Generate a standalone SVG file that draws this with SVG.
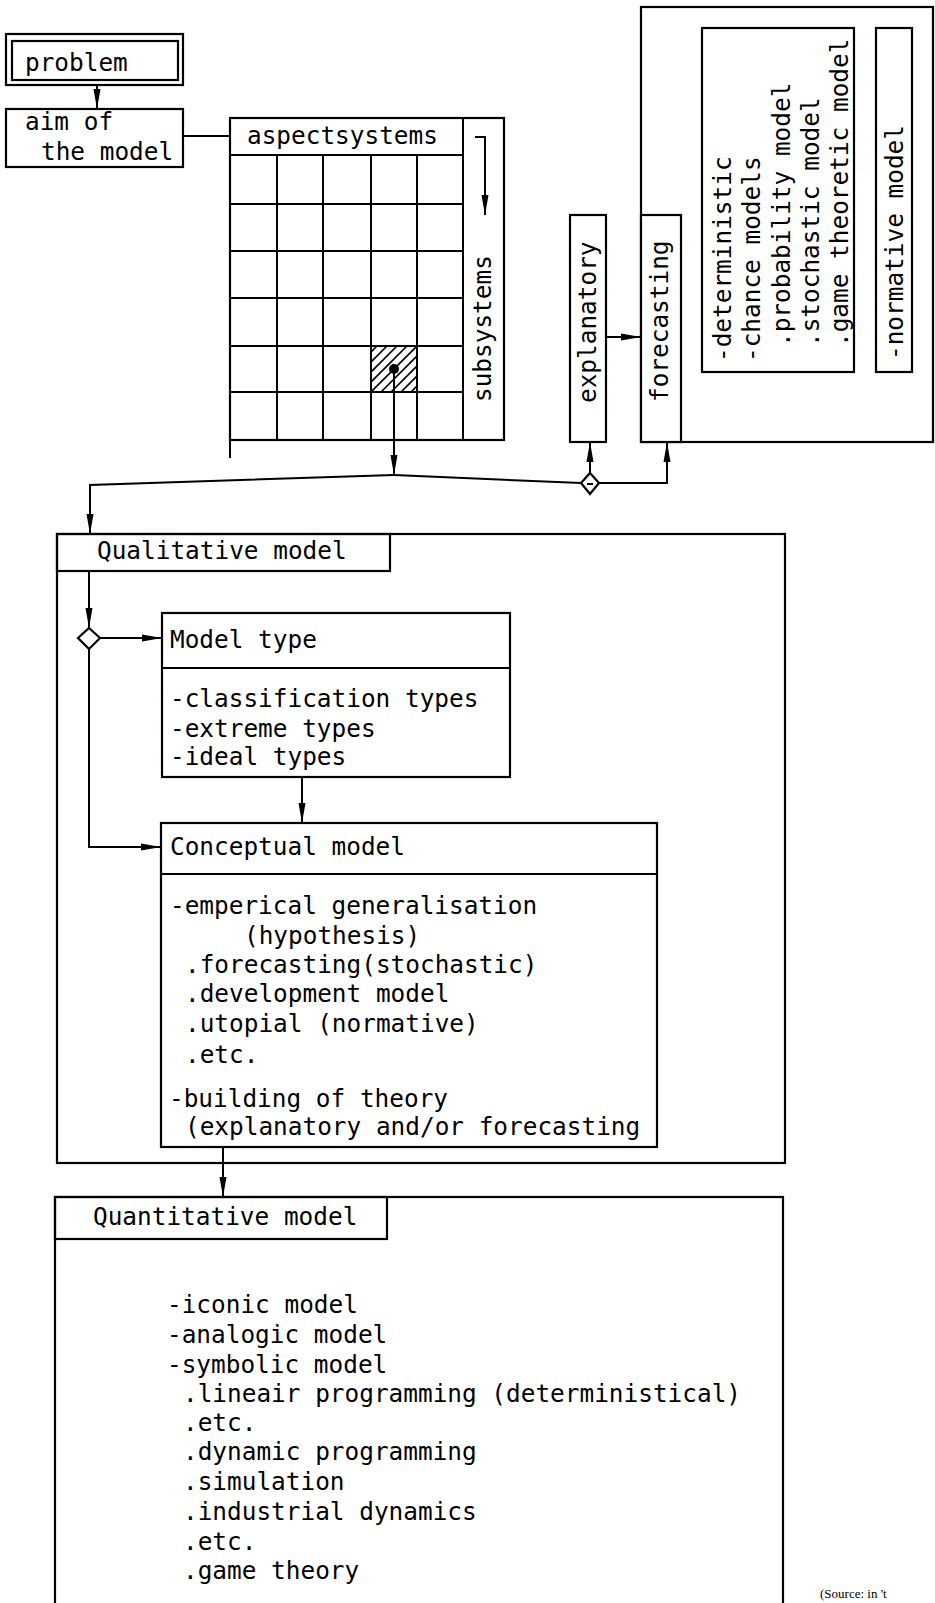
<svg xmlns="http://www.w3.org/2000/svg" width="935" height="1603" viewBox="0 0 935 1603">
  <style>
    .box { fill: #fff; stroke: #000; stroke-width: 2.2; }
    .open { fill: none; stroke: #000; stroke-width: 2.2; }
    .ln { fill: none; stroke: #000; stroke-width: 2; }
    .arr { marker-end: url(#ah); }
    .hatch { stroke: #000; stroke-width: 1.6; }
    text { font-family: "DejaVu Sans Mono", "Liberation Mono", monospace; font-size: 24.4px; fill: #000; }
    .src { font-family: "Liberation Serif", "Times New Roman", serif; font-size: 13px; }
  </style>
  <defs>
    <marker id="ah" viewBox="0 0 20 9" refX="20" refY="4.5" markerWidth="20" markerHeight="9" markerUnits="userSpaceOnUse" orient="auto">
      <path d="M0,1 L20,4.5 L0,8 z" fill="#000"/>
    </marker>
    <clipPath id="cellClip">
      <rect x="371" y="346" width="46" height="46"/>
    </clipPath>
  </defs>

  <rect width="935" height="1603" fill="#fff"/>

  <!-- problem (double frame) -->
  <g id="problem">
    <rect class="box" x="6" y="34" width="177" height="51"/>
    <rect class="open" x="12" y="41" width="166" height="39"/>
    <text x="25" y="71">problem</text>
  </g>

  <!-- aim of the model -->
  <g id="aim">
    <rect class="box" x="6" y="109" width="177" height="58"/>
    <text x="25" y="130">aim of</text>
    <text x="41" y="160">the model</text>
  </g>

  <!-- aspect systems x subsystems matrix -->
  <g id="matrix">
    <rect class="box" x="230" y="118" width="274" height="322"/>
    <line class="ln" x1="230" y1="155" x2="463" y2="155"/>
    <line class="ln" x1="463" y1="118" x2="463" y2="440"/>
    <line class="ln" x1="277" y1="155" x2="277" y2="440"/>
    <line class="ln" x1="323" y1="155" x2="323" y2="440"/>
    <line class="ln" x1="371" y1="155" x2="371" y2="440"/>
    <line class="ln" x1="417" y1="155" x2="417" y2="440"/>
    <line class="ln" x1="230" y1="204" x2="463" y2="204"/>
    <line class="ln" x1="230" y1="251" x2="463" y2="251"/>
    <line class="ln" x1="230" y1="298" x2="463" y2="298"/>
    <line class="ln" x1="230" y1="346" x2="463" y2="346"/>
    <line class="ln" x1="230" y1="392" x2="463" y2="392"/>
    <line class="ln" x1="230" y1="440" x2="230" y2="458"/>
    <!-- selected cell -->
    <g clip-path="url(#cellClip)">
      <line class="hatch" x1="331" y1="392" x2="377" y2="346"/>
      <line class="hatch" x1="341" y1="392" x2="387" y2="346"/>
      <line class="hatch" x1="351" y1="392" x2="397" y2="346"/>
      <line class="hatch" x1="361" y1="392" x2="407" y2="346"/>
      <line class="hatch" x1="371" y1="392" x2="417" y2="346"/>
      <line class="hatch" x1="381" y1="392" x2="427" y2="346"/>
      <line class="hatch" x1="391" y1="392" x2="437" y2="346"/>
      <line class="hatch" x1="401" y1="392" x2="447" y2="346"/>
      <line class="hatch" x1="411" y1="392" x2="457" y2="346"/>
    </g>
    <circle cx="394" cy="369" r="5" fill="#000"/>
    <text x="247" y="144">aspectsystems</text>
    <text x="491" y="402" transform="rotate(-90 491 402)">subsystems</text>
  </g>

  <!-- model classes panel -->
  <g id="classes">
    <rect class="box" x="641" y="7" width="292" height="435"/>
    <rect class="box" x="702" y="28" width="152" height="344"/>
    <text x="731" y="362" transform="rotate(-90 731 362)">-deterministic</text>
    <text x="760" y="362" transform="rotate(-90 760 362)">-chance models</text>
    <text x="790" y="347" transform="rotate(-90 790 347)">.probability model</text>
    <text x="819" y="347" transform="rotate(-90 819 347)">.stochastic model</text>
    <text x="848" y="347" transform="rotate(-90 848 347)">.game theoretic model</text>
    <rect class="box" x="876" y="28" width="36" height="344"/>
    <text x="903" y="360" transform="rotate(-90 903 360)">-normative model</text>
  </g>

  <g id="forecasting">
    <rect class="box" x="641" y="215" width="40" height="227"/>
    <text x="668" y="402" transform="rotate(-90 668 402)">forecasting</text>
  </g>

  <g id="explanatory">
    <rect class="box" x="570" y="215" width="36" height="227"/>
    <text x="596" y="403" transform="rotate(-90 596 403)">explanatory</text>
  </g>

  <!-- qualitative model -->
  <g id="qualitative">
    <rect class="box" x="57" y="534" width="728" height="629"/>
    <rect class="open" x="57" y="534" width="333" height="37"/>
    <text x="97" y="559">Qualitative model</text>
  </g>

  <g id="model-type">
    <rect class="box" x="162" y="613" width="348" height="164"/>
    <line class="ln" x1="162" y1="668" x2="510" y2="668"/>
    <text x="170" y="648">Model type</text>
    <text x="170" y="707">-classification types</text>
    <text x="170" y="737">-extreme types</text>
    <text x="170" y="765">-ideal types</text>
  </g>

  <g id="conceptual">
    <rect class="box" x="161" y="823" width="496" height="324"/>
    <line class="ln" x1="161" y1="874" x2="657" y2="874"/>
    <text x="170" y="855">Conceptual model</text>
    <text x="170" y="914">-emperical generalisation</text>
    <text x="244" y="944">(hypothesis)</text>
    <text x="185" y="973">.forecasting(stochastic)</text>
    <text x="185" y="1002">.development model</text>
    <text x="185" y="1032">.utopial (normative)</text>
    <text x="185" y="1063">.etc.</text>
    <text x="169" y="1107">-building of theory</text>
    <text x="185" y="1135">(explanatory and/or forecasting</text>
  </g>

  <!-- quantitative model -->
  <g id="quantitative">
    <rect class="box" x="55" y="1197" width="728" height="440"/>
    <rect class="open" x="55" y="1197" width="332" height="42"/>
    <text x="93" y="1225">Quantitative model</text>
    <text x="167" y="1313">-iconic model</text>
    <text x="167" y="1343">-analogic model</text>
    <text x="167" y="1373">-symbolic model</text>
    <text x="183" y="1402">.lineair programming (deterministical)</text>
    <text x="183" y="1431">.etc.</text>
    <text x="183" y="1460">.dynamic programming</text>
    <text x="183" y="1490">.simulation</text>
    <text x="183" y="1520">.industrial dynamics</text>
    <text x="183" y="1550">.etc.</text>
    <text x="183" y="1579">.game theory</text>
  </g>

  <text class="src" x="820" y="1598">(Source: in 't</text>

  <!-- connectors -->
  <g id="connectors">
    <line class="ln arr" x1="97" y1="85" x2="97" y2="109"/>
    <line class="ln" x1="183" y1="136" x2="230" y2="136"/>
    <polyline class="ln arr" points="475,137 485,137 485,215"/>
    <line class="ln arr" x1="394" y1="374" x2="394" y2="475"/>
    <polyline class="ln arr" points="394,475 90,485 90,534"/>
    <line class="ln" x1="394" y1="475" x2="581" y2="483"/>
    <line class="ln arr" x1="590" y1="473" x2="590" y2="442"/>
    <polyline class="ln arr" points="599,483 667,483 667,442"/>
    <line class="ln arr" x1="606" y1="337" x2="641" y2="337"/>
    <path class="box" d="M590,473 L599,483 L590,494 L581,483 z"/>
    <line class="ln" x1="587" y1="484" x2="593" y2="484" stroke-width="1.5"/>

    <line class="ln arr" x1="89" y1="571" x2="89" y2="628"/>
    <line class="ln arr" x1="100" y1="638" x2="162" y2="638"/>
    <polyline class="ln arr" points="89,649 89,847 161,847"/>
    <path class="box" d="M89,628 L100,638 L89,649 L78,638 z"/>
    <line class="ln arr" x1="302" y1="777" x2="302" y2="823"/>
    <line class="ln arr" x1="223" y1="1147" x2="223" y2="1197"/>
  </g>
</svg>
